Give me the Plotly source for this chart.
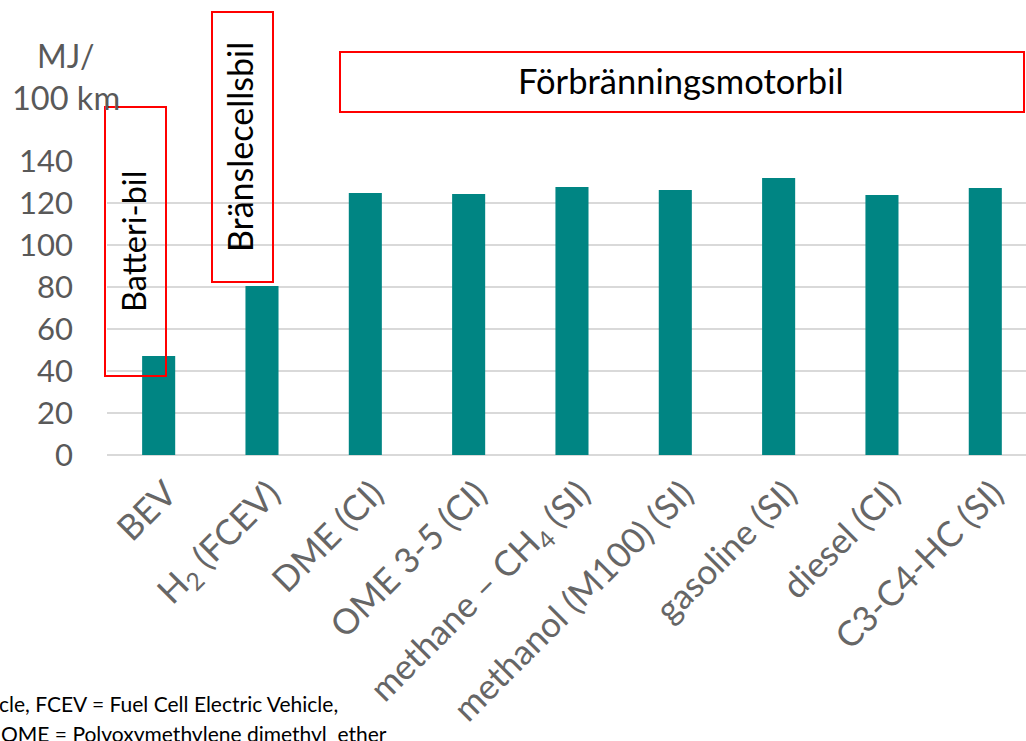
import plotly.graph_objects as go

categories = ["BEV", "H<sub>2</sub> (FCEV)", "DME (CI)", "OME 3-5 (CI)", "methane – CH<sub>4</sub> (SI)",
              "methanol (M100) (SI)", "gasoline (SI)", "diesel (CI)", "C3-C4-HC (SI)"]
values = [47.1, 80.5, 124.8, 124.3, 127.6, 126.2, 131.9, 123.8, 127.1]
y_ticks = [0, 20, 40, 60, 80, 100, 120, 140]

W, H = 1026, 741
L, R, T, B = 107, 0, 161, 286
PW, PH = W - L - R, H - T - B
FONT = "Lato"
GRAY = "#595959"

def px(x):
    return (x - L) / PW

def py(y):
    return (H - B - y) / PH

fig = go.Figure(go.Bar(x=list(range(len(categories))), y=values, width=0.32,
                       marker=dict(color="#008583", line=dict(width=0))))

fig.update_layout(
    width=W, height=H, margin=dict(l=L, r=R, t=T, b=B),
    plot_bgcolor="white", paper_bgcolor="white", showlegend=False,
    font=dict(family=FONT, color=GRAY),
    xaxis=dict(tickmode="array", tickvals=list(range(len(categories))), ticktext=categories,
               range=[-0.5, 8.394], tickangle=-45, tickfont=dict(size=35, color="#666666"),
               showgrid=False, showline=False, zeroline=False, ticks="", ticklabelstandoff=10,
               ticklabelshift=8),
    yaxis=dict(range=[0, 140], tickvals=y_ticks, tickfont=dict(size=31, color=GRAY),
               showgrid=True, gridcolor="#d9d9d9", gridwidth=2, zeroline=True,
               zerolinecolor="#d9d9d9", zerolinewidth=2, showline=False, ticks="",
               ticklabelstandoff=33),
)

shapes = [
    (105, 107, 166, 376),
    (212, 12, 273, 282),
    (340, 52, 1024, 112),
]
for x0, y0, x1, y1 in shapes:
    fig.add_shape(type="rect", xref="paper", yref="paper", x0=px(x0), x1=px(x1), y0=py(y1), y1=py(y0),
                  line=dict(color="#ff0000", width=2), fillcolor="rgba(0,0,0,0)", layer="above")

ann = [
    dict(text="Batteri-bil", x=px(133), y=py(242), textangle=-90, font=dict(size=32.5, color="black")),
    dict(text="Bränslecellsbil", x=px(240), y=py(147), textangle=-90, font=dict(size=34, color="black")),
    dict(text="Förbränningsmotorbil", x=px(681), y=py(81), font=dict(size=34.5, color="black")),
    dict(text="MJ/", x=px(96), y=py(55), xanchor="right", font=dict(size=32, color=GRAY)),
    dict(text="100 km", x=px(66), y=py(97), font=dict(size=32.5, color=GRAY)),
    dict(text="BEV = Battery Electric Vehicle, FCEV = Fuel Cell Electric Vehicle,", x=px(340), y=py(703),
         xanchor="right", font=dict(size=21, color="black")),
    dict(text="DME = Dimethyl ether, OME = Polyoxymethylene dimethyl  ether", x=px(389), y=py(733),
         xanchor="right", font=dict(size=21, color="black")),
]
for a in ann:
    a.setdefault("xanchor", "center")
    fig.add_annotation(xref="paper", yref="paper", showarrow=False, yanchor="middle", **a)

fig.write_html("out.html", config={"displayModeBar": False},
               post_script="document.body.style.margin='0';document.body.style.overflow='hidden';")
